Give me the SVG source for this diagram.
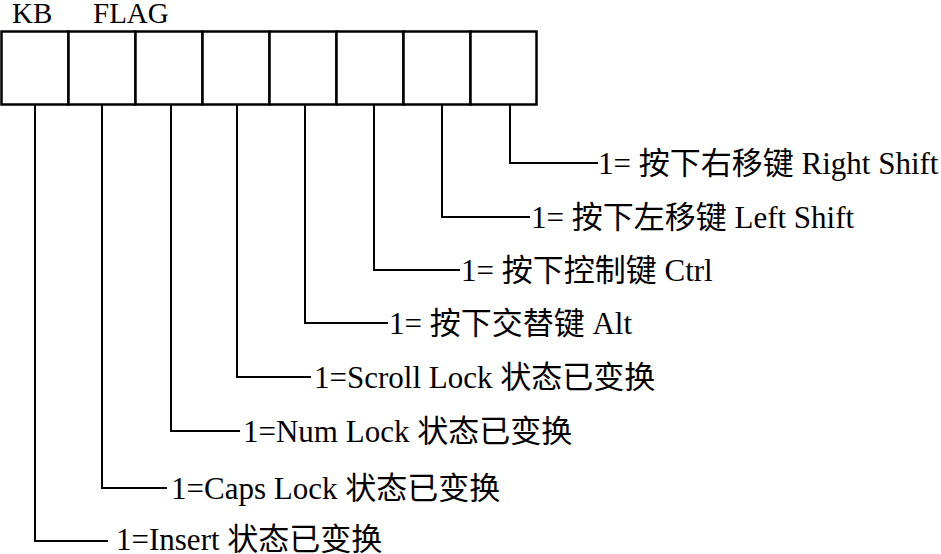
<svg xmlns="http://www.w3.org/2000/svg" width="941" height="554" viewBox="0 0 941 554">
<style>
.t{font-family:"Liberation Serif","Noto Sans CJK SC",serif;font-size:31px;fill:#000}
.h{font-family:"Liberation Serif",serif;font-size:29px;fill:#000}
.c{fill:#fff;stroke:#000;stroke-width:2.5}
.l{fill:none;stroke:#000;stroke-width:2}
</style>
<rect width="941" height="554" fill="#fff"/>
<g id="register">
<text class="h" x="12" y="23">KB</text>
<text class="h" x="93" y="23">FLAG</text>
<rect class="c" x="1.5" y="31.5" width="67" height="73"/>
<rect class="c" x="68.5" y="31.5" width="67" height="73"/>
<rect class="c" x="135.5" y="31.5" width="67" height="73"/>
<rect class="c" x="202.5" y="31.5" width="67" height="73"/>
<rect class="c" x="269.5" y="31.5" width="67" height="73"/>
<rect class="c" x="336.5" y="31.5" width="67" height="73"/>
<rect class="c" x="403.5" y="31.5" width="67" height="73"/>
<rect class="c" x="470.5" y="31.5" width="66" height="73"/>
</g>
<g id="connectors">
<polyline class="l" points="510,105 510,163 598,163"/>
<polyline class="l" points="442,105 442,217 530,217"/>
<polyline class="l" points="374,105 374,270 460,270"/>
<polyline class="l" points="305,105 305,323 388,323"/>
<polyline class="l" points="237,105 237,377 311,377"/>
<polyline class="l" points="171,105 171,431 240,431"/>
<polyline class="l" points="102,105 102,488 167,488"/>
<polyline class="l" points="35,105 35,541 108,541"/>
</g>
<g id="labels">
<text class="t" x="598" y="174">1= 按下右移键 Right Shift</text>
<text class="t" x="531" y="228">1= 按下左移键 Left Shift</text>
<text class="t" x="461" y="281">1= 按下控制键 Ctrl</text>
<text class="t" x="389" y="334">1= 按下交替键 Alt</text>
<text class="t" x="314" y="388">1=Scroll Lock 状态已变换</text>
<text class="t" x="243" y="442">1=Num Lock 状态已变换</text>
<text class="t" x="171" y="499">1=Caps Lock 状态已变换</text>
<text class="t" x="116" y="550">1=Insert 状态已变换</text>
</g>
</svg>
